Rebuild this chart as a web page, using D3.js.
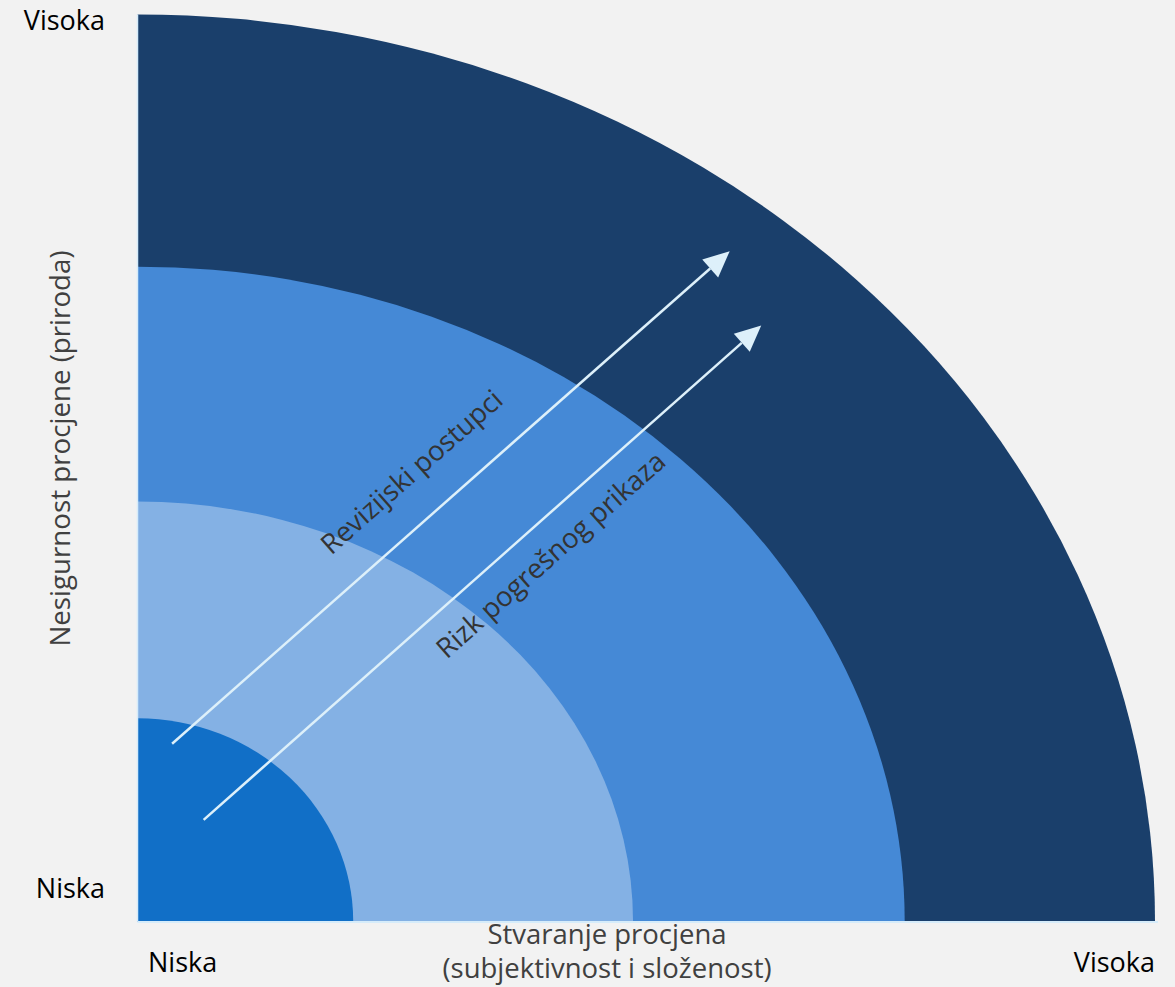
<!DOCTYPE html>
<html>
<head>
<meta charset="utf-8">
<script src="https://cdn.jsdelivr.net/npm/d3@7"></script>
<style>
  html, body { margin: 0; padding: 0; background: #f2f2f2; }
  svg { display: block; }
  text { font-family: "Open Sans", "Noto Sans", sans-serif; }
</style>
</head>
<body>
<svg id="chart" width="1175" height="987"></svg>
<script>
// ---- data ----
const ringNames = ["Outer", "Second", "Third", "Inner"];
const ringRx = [1.0, 0.754, 0.487, 0.212];   // horizontal extent (fraction of x axis)
const ringRy = [1.0, 0.722, 0.463, 0.224];   // vertical extent (fraction of y axis)
const ringColors = ["#1a3f6b", "#4589d6", "#84b1e4", "#116fc7"];

const arrowNames = ["Revizijski postupci", "Rizk pogrešnog prikaza"];
const arrowStartX = [0.034, 0.065];
const arrowStartY = [0.196, 0.112];
const arrowEndX = [0.582, 0.613];
const arrowEndY = [0.739, 0.657];
const arrowLabelX = [0.2757, 0.4123];
const arrowLabelY = [0.4879, 0.3964];

const xTickLabels = ["Niska", "Visoka"];
const yTickLabels = ["Niska", "Visoka"];
const xTitle = ["Stvaranje procjena", "(subjektivnost i složenost)"];
const yTitle = "Nesigurnost procjene (priroda)";

// ---- scales ----
const svg = d3.select("#chart");
const x = d3.scaleLinear().domain([0, 1]).range([137.5, 1155]);
const y = d3.scaleLinear().domain([0, 1]).range([921.5, 14.5]);

// ---- rings (quarter ellipses) ----
const ringG = svg.append("g");
ringNames.forEach((n, i) => {
  const rx = x(ringRx[i]) - x(0);
  const ry = y(0) - y(ringRy[i]);
  const d = `M${x(0)},${y(0)} L${x(ringRx[i])},${y(0)} A${rx},${ry} 0 0 0 ${x(0)},${y(ringRy[i])} Z`;
  ringG.append("path").attr("d", d).attr("fill", ringColors[i]);
});

// ---- axis lines ----
svg.append("line").attr("x1", x(0)).attr("x2", x(0)).attr("y1", y(0)).attr("y2", y(1))
  .attr("stroke", "#d6ecfa").attr("stroke-width", 1.5);
svg.append("line").attr("x1", x(0)).attr("x2", x(1) + 3).attr("y1", y(0) + 0.5).attr("y2", y(0) + 0.5)
  .attr("stroke", "#d6ecfa").attr("stroke-width", 2);

// ---- arrows ----
const arrowColor = "#ddf0fa";
const arrowG = svg.append("g");
arrowNames.forEach((n, i) => {
  const x1 = x(arrowStartX[i]), y1 = y(arrowStartY[i]);
  const x2 = x(arrowEndX[i]), y2 = y(arrowEndY[i]);
  const ang = Math.atan2(y2 - y1, x2 - x1);
  const headLen = 26, headHalf = 12;
  const bx = x2 - headLen * Math.cos(ang), by = y2 - headLen * Math.sin(ang);
  arrowG.append("line").attr("x1", x1).attr("y1", y1).attr("x2", bx).attr("y2", by)
    .attr("stroke", arrowColor).attr("stroke-width", 2.5);
  const px = -Math.sin(ang), py = Math.cos(ang);
  const pts = [[x2, y2], [bx + headHalf * px, by + headHalf * py], [bx - headHalf * px, by - headHalf * py]];
  arrowG.append("path").attr("d", "M" + pts.map(p => p.join(",")).join("L") + "Z").attr("fill", arrowColor);
  const deg = ang * 180 / Math.PI;
  arrowG.append("text")
    .attr("transform", `translate(${x(arrowLabelX[i])},${y(arrowLabelY[i])}) rotate(${deg})`)
    .attr("text-anchor", "middle")
    .attr("font-size", 27.5)
    .attr("fill", "#333333")
    .text(n);
});

// ---- tick labels ----
const tickSize = 27;
svg.append("text").attr("x", 105).attr("y", y(0) - 24).attr("text-anchor", "end")
  .attr("font-size", tickSize).attr("fill", "#000").text(yTickLabels[0]);
svg.append("text").attr("x", 105).attr("y", 30).attr("text-anchor", "end")
  .attr("font-size", tickSize).attr("fill", "#000").text(yTickLabels[1]);
svg.append("text").attr("x", 148).attr("y", 972).attr("text-anchor", "start")
  .attr("font-size", tickSize).attr("fill", "#000").text(xTickLabels[0]);
svg.append("text").attr("x", 1155).attr("y", 972).attr("text-anchor", "end")
  .attr("font-size", tickSize).attr("fill", "#000").text(xTickLabels[1]);

// ---- axis titles ----
const xt = svg.append("text").attr("text-anchor", "middle").attr("font-size", 27.5).attr("fill", "#404040");
xt.append("tspan").attr("x", 607).attr("y", 944).text(xTitle[0]);
xt.append("tspan").attr("x", 607).attr("y", 978).text(xTitle[1]);

svg.append("text")
  .attr("transform", `translate(70,${448.5}) rotate(-90)`)
  .attr("text-anchor", "middle").attr("font-size", 27.7).attr("fill", "#404040")
  .text(yTitle);
</script>
</body>
</html>
